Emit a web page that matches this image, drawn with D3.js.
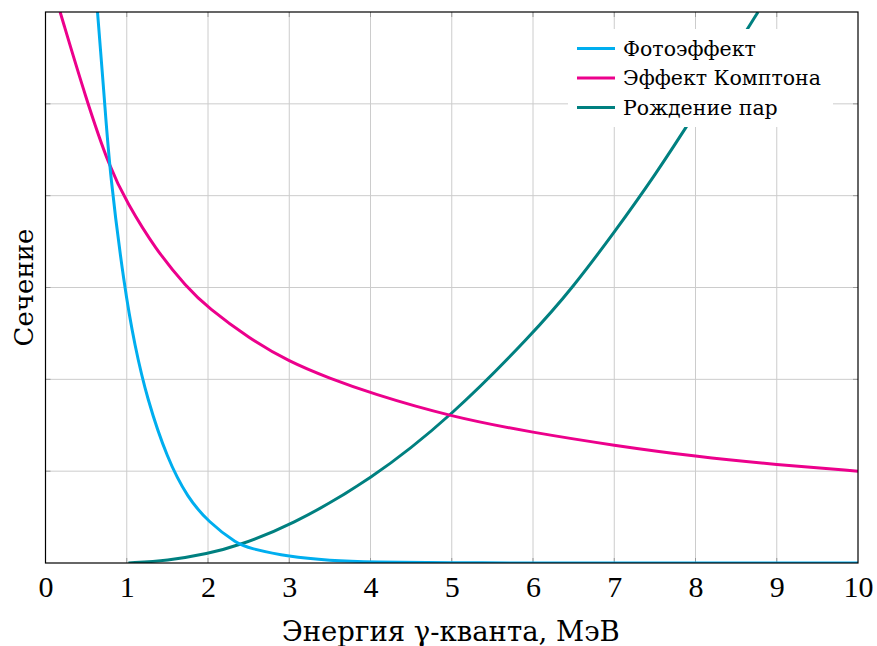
<!DOCTYPE html>
<html><head><meta charset="utf-8">
<script src="https://cdn.jsdelivr.net/npm/d3@7"></script>
<style>body{margin:0;background:#fff} text{font-family:"DejaVu Serif",serif;} .tickl text{font-family:"Liberation Serif","DejaVu Serif",serif;}</style>
</head><body>
<svg id="c" width="877" height="646"></svg>
<script>
const xTicks = [0,1,2,3,4,5,6,7,8,9,10];
const yTicks = [0,1,2,3,4,5,6];
const seriesNames = ["Фотоэффект","Эффект Комптона","Рождение пар"];
const seriesColors = ["#00aeef","#ec008c","#008080"];
const photoX = [0.64,0.73,0.79,0.97,1.10,1.25,1.50,1.75,2.00,2.37,2.50,3.00,3.50,4.00,5.00,6.00,7.00,8.00,9.00,10.0];
const photoY = [6.00,5.00,4.26,3.00,2.36,1.79,1.13,0.71,0.45,0.20,0.165,0.065,0.027,0.011,0.002,0.0005,0,0,0,0];
const comptonX = [0.18,0.50,0.79,1.00,1.35,1.74,2.00,2.50,3.00,3.50,4.00,5.00,6.00,7.00,8.00,9.00,10.0];
const comptonY = [6.00,5.05,4.30,3.93,3.42,3.00,2.78,2.45,2.19,2.01,1.85,1.59,1.42,1.28,1.16,1.07,1.00];
const pairX = [1.02,1.50,2.00,2.37,3.00,4.00,5.00,6.00,6.49,7.00,7.50,8.00,8.50,8.77];
const pairY = [0.00,0.025,0.10,0.19,0.40,0.90,1.60,2.50,3.00,3.60,4.22,4.90,5.62,6.00];

const svg = d3.select("#c");
const L = 45.5, R = 858, T = 12, B = 563;
const x = d3.scaleLinear().domain([0,10]).range([L,R]);
const y = d3.scaleLinear().domain([0,6]).range([B,T]);

// grid
svg.append("g").selectAll("line").data(xTicks.slice(1,-1)).join("line")
  .attr("x1",d=>x(d)).attr("x2",d=>x(d)).attr("y1",T).attr("y2",B)
  .attr("stroke","#cccccc").attr("stroke-width",1);
svg.append("g").selectAll("line").data(yTicks.slice(1,-1)).join("line")
  .attr("y1",d=>y(d)).attr("y2",d=>y(d)).attr("x1",L).attr("x2",R)
  .attr("stroke","#cccccc").attr("stroke-width",1);
// tick marks inside
const tk = svg.append("g").attr("stroke","#999").attr("stroke-width",1);
xTicks.slice(1,-1).forEach(d=>{
  tk.append("line").attr("x1",x(d)).attr("x2",x(d)).attr("y1",B).attr("y2",B-5);
  tk.append("line").attr("x1",x(d)).attr("x2",x(d)).attr("y1",T).attr("y2",T+5);
});
yTicks.slice(1,-1).forEach(d=>{
  tk.append("line").attr("y1",y(d)).attr("y2",y(d)).attr("x1",L).attr("x2",L+5);
  tk.append("line").attr("y1",y(d)).attr("y2",y(d)).attr("x1",R).attr("x2",R-5);
});

svg.append("defs").append("clipPath").attr("id","clip").append("rect")
  .attr("x",L).attr("y",T).attr("width",R-L).attr("height",B-T);

const line = d3.line().x(d=>x(d[0])).y(d=>y(d[1])).curve(d3.curveBasis);
const data = [d3.zip(photoX,photoY), d3.zip(comptonX,comptonY), d3.zip(pairX,pairY)];
const order = [2,1,0];
svg.append("g").attr("clip-path","url(#clip)").selectAll("path").data(order).join("path")
  .attr("d",i=>line(data[i])).attr("fill","none")
  .attr("stroke",i=>seriesColors[i]).attr("stroke-width",3);

// frame
svg.append("rect").attr("x",L).attr("y",T).attr("width",R-L).attr("height",B-T)
  .attr("fill","none").attr("stroke","#000").attr("stroke-width",1.2);

// x tick labels
const xAxis = d3.axisBottom(x).tickValues(xTicks).tickSize(0).tickPadding(0).tickFormat(d3.format("d"));
const xg = svg.append("g").attr("class","tickl").attr("transform",`translate(0,${B})`).call(xAxis);
xg.select(".domain").remove();
xg.attr("font-family",null).attr("font-size",null);
xg.selectAll("text").style("font-size","30px").attr("fill","#000")
  .attr("dy",null).attr("y",34);

// axis labels
svg.append("text").attr("x",(L+R)/2 - 1).attr("y",641).attr("text-anchor","middle")
  .style("font-size","27.5px").attr("fill","#000")
  .text("Энергия γ-кванта, МэВ");
svg.append("text").attr("transform",`translate(33,${(T+B)/2}) rotate(-90)`).attr("text-anchor","middle")
  .style("font-size","26px").attr("fill","#000").text("Сечение");

// legend
const lg = svg.append("g");
lg.append("rect").attr("x",568).attr("y",29).attr("width",265).attr("height",98).attr("fill","#fff");
seriesNames.forEach((n,i)=>{
  const cy = 48.5 + i*29.5;
  lg.append("line").attr("x1",577).attr("x2",615).attr("y1",cy).attr("y2",cy)
    .attr("stroke",seriesColors[i]).attr("stroke-width",3);
  lg.append("text").attr("x",623).attr("y",cy+7)
    .style("font-size","20.5px").attr("fill","#000").text(n);
});
</script>
</body></html>
